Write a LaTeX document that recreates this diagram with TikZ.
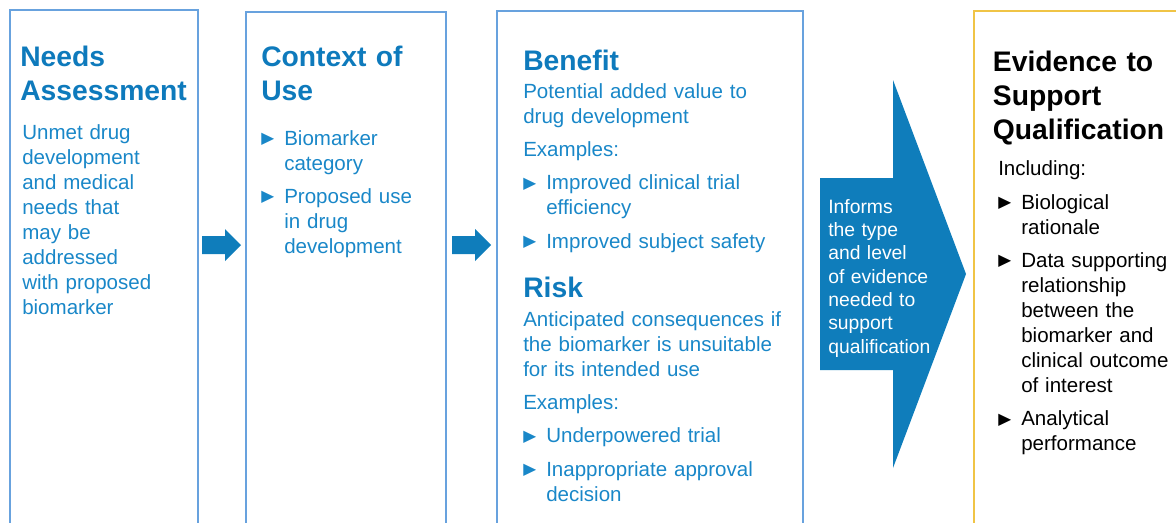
\documentclass[tikz,border=0pt]{standalone}
\usepackage{fontspec}
\setmainfont{Liberation Sans}
\newfontfamily\symfont{DejaVu Sans}
\definecolor{headblue}{RGB}{14,122,188}
\definecolor{textblue}{RGB}{25,135,200}
\definecolor{frameblue}{RGB}{104,162,222}
\definecolor{framegold}{RGB}{240,196,70}
\definecolor{arrowblue}{RGB}{15,125,187}
\newcommand{\bul}[1]{\hangindent=17.25pt\hangafter=1\noindent\makebox[17.25pt][l]{\raisebox{1.2pt}{\scalebox{1.2}[1.15]{\symfont\fontsize{10.5}{10.5}\selectfont ▶}}}#1\par}
\begin{document}
\begin{tikzpicture}[x=0.75pt, y=-0.75pt, line join=miter,
  panel/.style={draw=frameblue, line width=1.2pt},
  head/.style={anchor=north west, inner sep=0pt, text width=260pt, text=headblue, font=\bfseries\fontsize{21.2}{25.6}\selectfont},
  body/.style={anchor=north west, inner sep=0pt, text width=260pt, text=textblue, font=\fontsize{15.4}{18.75}\selectfont, execute at begin node={\setlength{\parskip}{6.3pt}}}]
\useasboundingbox (0,0) rectangle (1176,522);
\clip (0,0) rectangle (1176,522);
% frames
\draw[panel] (10,10) rectangle (198,540);
\draw[panel] (246,12) rectangle (446,540);
\draw[panel] (497,11) rectangle (803,540);
\draw[panel, draw=framegold] (974,11) rectangle (1190,540);
% arrows
\foreach \ax in {202,452}{
\fill[arrowblue] (\ax,236) -- ++(23,0) -- ++(0,-7) -- (\ax+39,245) -- (\ax+23,261) -- ++(0,-7) -- (\ax,254) -- cycle;
}
\fill[arrowblue] (820,178) -- (893,178) -- (893,80) -- (966,274) -- (893,468) -- (893,370) -- (820,370) -- cycle;
% needs assessment
\node[head] (needsT) at (20,46) {Needs\newline Assessment};
\node[body] (needsB) at (22,124) {Unmet drug\newline development\newline and medical\newline needs that\newline may be\newline addressed\newline with proposed\newline biomarker};
% context of use
\node[head] (contextT) at (261,46) {Context of\newline Use};
\node[body] (contextB) at (261,130) {\bul{Biomarker\newline category}\bul{Proposed use\newline in drug\newline development}};
% benefit / risk
\node[head] (benefitT) at (523,49.5) {Benefit};
\node[body] (benefitB) at (523,83) {Potential added value to\newline drug development\par Examples:\par\bul{Improved clinical trial\newline efficiency}\bul{Improved subject safety}};
\node[head] (riskT) at (523,276.5) {Risk};
\node[body] (riskB) at (523,311) {Anticipated consequences if\newline the biomarker is unsuitable\newline for its intended use\par Examples:\par\bul{Underpowered trial}\bul{Inappropriate approval\newline decision}};
% big arrow text
\node[body, text=white, font=\fontsize{14.5}{17.5}\selectfont] (informs) at (828,199) {Informs\newline the type\newline and level\newline of evidence\newline needed to\newline support\newline qualification};
% evidence
\node[head, text=black] (evidenceT) at (992.7,50.5) {Evidence to\newline Support\newline Qualification};
\node[body, text=black] (evidenceB) at (998,160.5) {Including:\par\bul{Biological\newline rationale}\bul{Data supporting\newline relationship\newline between the\newline biomarker and\newline clinical outcome\newline of interest}\bul{Analytical\newline performance}};
\end{tikzpicture}
\end{document}
